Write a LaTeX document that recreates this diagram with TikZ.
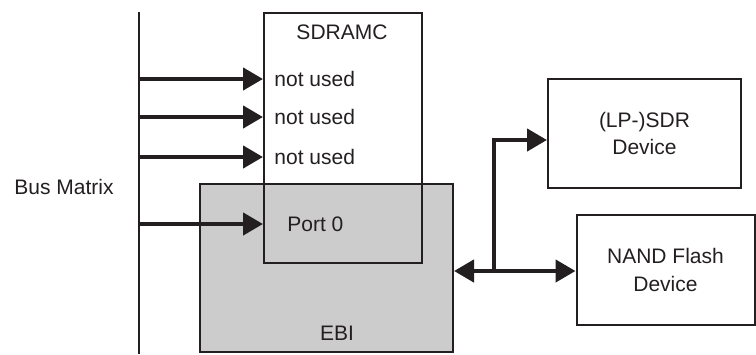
\documentclass[tikz,border=0pt]{standalone}
\usepackage{fontspec}
\setmainfont{Liberation Sans}
\usetikzlibrary{arrows.meta,calc}
\definecolor{ebigray}{HTML}{CCCCCC}
\definecolor{ink}{HTML}{231F20}
\tikzset{
  box/.style={draw=ink,line width=1pt,inner sep=0pt},
  lbl/.style={inner sep=0pt,text=ink,font=\fontsize{10.5}{12.6}\selectfont},
  arr/.style={draw=ink,line width=2.2pt,-{Triangle[length=10pt,width=11pt]}},
  biarr/.style={draw=ink,line width=2.2pt,{Triangle[length=10pt,width=11pt]}-{Triangle[length=10pt,width=11pt]}},
  busline/.style={draw=ink,line width=1pt}
}
\begin{document}
\begin{tikzpicture}[x=0.5pt,y=-0.5pt]
\useasboundingbox (0,0) rectangle (756,354);
% EBI box
\node[box,fill=ebigray,minimum width=126.5pt,minimum height=84pt] (ebi) at (326.5,268) {};
% SDRAMC box (outline only)
\node[box,minimum width=79pt,minimum height=125pt] (sd) at (343,138) {};
% Devices
\node[box,minimum width=96.5pt,minimum height=54.5pt,align=center,lbl] (sdr) at (644.5,133.5) {(LP-)SDR\\[1pt]Device};
\node[box,minimum width=89pt,minimum height=55pt,align=center,lbl] (nand) at (665.5,270) {NAND Flash\\[1pt]Device};
% Bus line
\coordinate (bt) at (139,12);
\coordinate (bb) at (139,354);
\draw[busline] (bt) -- (bb);
\node[lbl] (bm) at (64,187) {Bus Matrix};
% labels
\node[lbl] (sdl) at (342,32) {SDRAMC};
\node[lbl,anchor=west] (n1) at (274,79) {not used};
\node[lbl,anchor=west] (n2) at (274,117) {not used};
\node[lbl,anchor=west] (n3) at (274,157) {not used};
\node[lbl,anchor=west] (p0) at (287,224) {Port 0};
\node[lbl] (ebil) at (337,333) {EBI};
% arrows from bus
\coordinate (a1) at (140,79);
\coordinate (a2) at (140,117);
\coordinate (a3) at (140,157);
\coordinate (a4) at (140,224);
\draw[arr] (a1) -- (sd.west |- a1);
\draw[arr] (a2) -- (sd.west |- a2);
\draw[arr] (a3) -- (sd.west |- a3);
\draw[arr] (a4) -- (sd.west |- a4);
% EBI to devices
\coordinate (j) at (494,271);
\draw[biarr] (ebi.east |- j) -- (nand.west |- j);
\draw[arr] (j) |- ($(sdr.west)+(0,6.5)$);
\end{tikzpicture}
\end{document}
